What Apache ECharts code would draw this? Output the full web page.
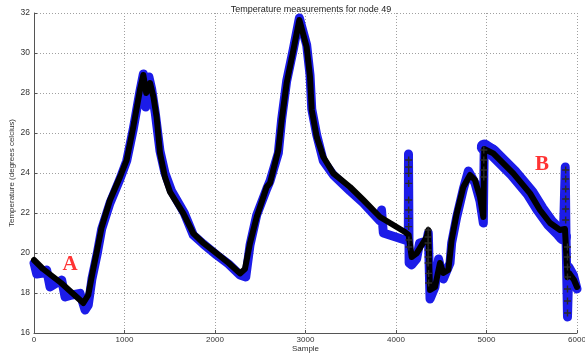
<!DOCTYPE html>
<html>
<head>
<meta charset="utf-8">
<script src="https://cdn.jsdelivr.net/npm/echarts@6/dist/echarts.min.js"></script>
<style>
  html, body { margin: 0; padding: 0; background: #fff; }
  #chart { width: 585px; height: 354px; }
</style>
</head>
<body>
<div id="chart"></div>
<script>
// smoothed readings (black +)
const blackLine = [
  [0, 19.65], [100, 19.2], [300, 18.5], [545, 17.5], [600, 17.9], [637, 18.8], [700, 20.2],
  [748, 21.3], [840, 22.65], [950, 23.8], [1024, 24.65], [1097, 26.3], [1171, 28.15],
  [1208, 28.9], [1240, 28.0], [1282, 28.5], [1320, 27.8], [1355, 26.8], [1392, 25.0],
  [1447, 23.8], [1503, 23.05], [1650, 21.98], [1760, 20.98], [1871, 20.5], [2018, 19.98],
  [2150, 19.5], [2276, 18.98], [2331, 19.2], [2387, 20.5], [2461, 21.8], [2571, 23.3],
  [2608, 23.5], [2700, 25.15], [2737, 26.65], [2792, 28.5], [2866, 30.15], [2932, 31.65],
  [3013, 30.3], [3050, 28.8], [3069, 27.15], [3124, 25.8], [3197, 24.8], [3308, 23.98],
  [3492, 23.3], [3639, 22.65], [3823, 21.8], [3934, 21.5], [4099, 21.05], [4140, 20.9],
  [4173, 19.8], [4228, 19.98], [4339, 20.8], [4357, 21.15], [4376, 18.15], [4431, 18.3],
  [4486, 19.5], [4523, 19.0], [4578, 19.15], [4615, 20.65], [4671, 21.98], [4744, 23.3],
  [4818, 23.9], [4873, 23.65], [4928, 22.8], [4965, 21.8], [4975, 25.2], [5075, 24.98],
  [5296, 23.98], [5481, 22.98], [5591, 22.15], [5702, 21.5], [5812, 21.15], [5867, 21.2],
  [5895, 18.8], [5912, 19.0], [5967, 18.65], [6000, 18.3]
];

// raw readings (blue *)
const blueLine = [
  [0, 19.5], [30, 18.95], [100, 19.0], [140, 19.15], [177, 18.3], [250, 18.5], [306, 18.65],
  [343, 17.8], [420, 17.9], [508, 17.98], [564, 17.15], [600, 17.4], [640, 18.7], [700, 20.0],
  [748, 21.2], [840, 22.5], [950, 23.7], [1024, 24.6], [1097, 26.2], [1171, 28.1],
  [1208, 28.95], [1234, 27.3], [1270, 28.8], [1300, 28.2], [1340, 27.0], [1392, 25.1],
  [1447, 24.0], [1520, 23.1], [1660, 22.0], [1760, 20.9], [1871, 20.45], [2018, 19.9],
  [2150, 19.45], [2276, 18.9], [2340, 18.8], [2387, 20.4], [2461, 21.9], [2571, 23.2],
  [2608, 23.6], [2700, 25.0], [2737, 26.7], [2792, 28.6], [2866, 30.2], [2932, 31.75],
  [3013, 30.4], [3050, 28.9], [3069, 27.2], [3124, 25.9], [3197, 24.6], [3308, 23.9],
  [3400, 23.5], [3492, 23.1], [3639, 22.5], [3823, 21.6], [3840, 22.15], [3860, 21.0],
  [4099, 20.65], [4136, 20.8], [4138, 24.95], [4145, 19.5], [4173, 19.4], [4228, 19.7],
  [4260, 20.5], [4339, 20.6], [4357, 21.0], [4376, 17.7], [4431, 18.3], [4470, 19.7],
  [4523, 18.7], [4597, 19.5], [4615, 20.5], [4671, 21.8], [4744, 23.2], [4800, 24.1],
  [4873, 23.5], [4928, 22.6], [4965, 21.5], [4975, 25.4], [5075, 25.2], [5296, 24.1],
  [5481, 23.1], [5591, 22.3], [5702, 21.6], [5812, 21.1], [5850, 20.9], [5870, 24.3],
  [5878, 21.0], [5895, 16.8], [5910, 19.3], [5960, 18.9], [6000, 18.2]
];

// the wider blue band along the B slope
const blueSlopeB = [
  [4975, 25.3], [5075, 25.0], [5296, 24.0], [5481, 23.0], [5591, 22.2],
  [5702, 21.5], [5812, 21.0], [5850, 20.8]
];

// columns of + markers at the jumps
const jumpMarks = [
  [4140, 24.65], [4140, 24.3], [4140, 23.98], [4140, 23.48], [4140, 22.65], [4140, 22.15],
  [4140, 21.73], [4140, 21.32], [4142, 20.65], [4142, 20.3],
  [4355, 21.15], [4355, 20.8], [4355, 20.5], [4355, 20.15], [4355, 19.8], [4355, 19.5],
  [4360, 18.98], [4360, 18.5],
  [4970, 25.15], [4970, 24.65], [4970, 24.15], [4970, 23.8],
  [5875, 24.15], [5875, 23.7], [5875, 23.2], [5875, 22.7], [5875, 22.2], [5875, 21.65],
  [5895, 20.3], [5895, 19.8], [5895, 19.3], [5895, 18.8], [5895, 18.2], [5895, 17.6], [5895, 17.0]
];

const annotations = [[398, 19.4, 'A'], [5613, 24.4, 'B']];

const xTicks = [0, 1000, 2000, 3000, 4000, 5000, 6000];
const yTicks = [16, 18, 20, 22, 24, 26, 28, 30, 32];

const plusPath = 'path://M4,0H6V4H10V6H6V10H4V6H0V4H4Z';
const font = 'Liberation Sans, Arial, sans-serif';

const chart = echarts.init(document.getElementById('chart'));

const gridLine = { show: true, lineStyle: { color: '#a0a0a0', type: [1, 2], width: 1 } };

chart.setOption({
  animation: false,
  backgroundColor: '#fff',
  title: {
    text: 'Temperature measurements for node 49',
    left: 306,
    top: 0,
    textAlign: 'center',
    textStyle: { fontFamily: font, fontSize: 9, fontWeight: 'normal', color: '#222' }
  },
  grid: { left: 34, right: 8, top: 13, bottom: 21, containLabel: false, outerBoundsMode: 'none' },
  xAxis: {
    type: 'value',
    min: xTicks[0],
    max: xTicks[xTicks.length - 1],
    interval: 1000,
    name: 'Sample',
    nameLocation: 'middle',
    nameGap: 12,
    nameMoveOverlap: false,
    nameTextStyle: { fontFamily: font, fontSize: 8, color: '#333' },
    axisLine: { show: true, lineStyle: { color: '#555', width: 1 } },
    axisTick: { show: true, inside: true, length: 3, lineStyle: { color: '#555' } },
    axisLabel: { fontFamily: font, fontSize: 8, color: '#333', margin: 3, formatter: (v) => String(v) },
    splitLine: gridLine
  },
  yAxis: {
    type: 'value',
    min: yTicks[0],
    max: yTicks[yTicks.length - 1],
    interval: 2,
    name: 'Temperature (degrees celcius)',
    nameLocation: 'middle',
    nameGap: 18,
    nameRotate: 90,
    nameMoveOverlap: false,
    nameTextStyle: { fontFamily: font, fontSize: 8, color: '#333' },
    axisLine: { show: true, lineStyle: { color: '#555', width: 1 } },
    axisTick: { show: true, inside: true, length: 3, lineStyle: { color: '#555' } },
    axisLabel: { fontFamily: font, fontSize: 8.5, color: '#333', margin: 4, formatter: (v) => String(v) },
    splitLine: gridLine
  },
  series: [
    {
      name: 'raw',
      type: 'line',
      data: blueLine,
      showSymbol: false,
      z: 2,
      lineStyle: { color: '#1c1ce8', width: 9, cap: 'round', join: 'round' }
    },
    {
      name: 'rawSlope',
      type: 'line',
      data: blueSlopeB,
      showSymbol: false,
      z: 2,
      lineStyle: { color: '#1c1ce8', width: 15, cap: 'round', join: 'round' }
    },
    {
      name: 'smoothed',
      type: 'line',
      data: blackLine,
      showSymbol: false,
      z: 3,
      lineStyle: { color: '#000', width: 6, cap: 'round', join: 'round' }
    },
    {
      name: 'jumps',
      type: 'scatter',
      data: jumpMarks,
      symbol: plusPath,
      symbolSize: 7,
      z: 4,
      itemStyle: { color: '#2a2a2a', opacity: 1 }
    },
    {
      name: 'labels',
      type: 'scatter',
      data: annotations,
      symbolSize: 0,
      z: 5,
      label: {
        show: true,
        position: 'inside',
        formatter: (p) => p.data[2],
        fontFamily: 'Liberation Serif, Times New Roman, serif',
        fontWeight: 'bold',
        fontSize: 21,
        color: '#ff0000',
        textBorderWidth: 0
      }
    }
  ]
});
</script>
</body>
</html>
